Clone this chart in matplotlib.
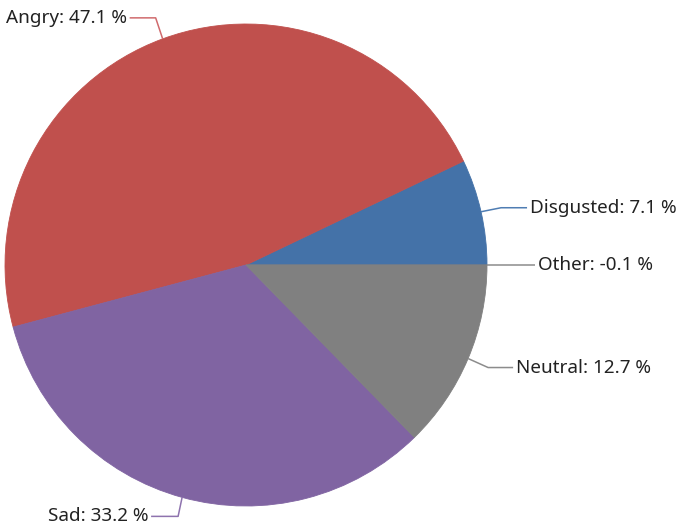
import numpy as np
import matplotlib
matplotlib.use('Agg')
import matplotlib.pyplot as plt

# chart data
labels = ['Disgusted', 'Angry', 'Sad', 'Neutral', 'Other']
values = [7.1, 47.1, 33.2, 12.7, -0.1]
colors = ['#4472A8', '#C0504D', '#8064A2', '#808080', '#808080']
line_colors = ['#4F7DB3', '#D06A6D', '#8E73AE', '#8C8C8C', '#8C8C8C']

W, H = 678, 529
fig = plt.figure(figsize=(W / 100, H / 100), dpi=100)
ax = fig.add_axes([0, 0, 1, 1])

cx, cy, r = 246, H - 265, 241

# negative share can't be a wedge, draw it as zero width
sizes = [max(v, 0) for v in values]
wedges, _ = ax.pie(sizes, colors=colors, startangle=0, counterclock=True,
                   center=(cx, cy), radius=r, normalize=True,
                   wedgeprops=dict(linewidth=0.6), frame=True)
for w, c in zip(wedges, colors):
    w.set_edgecolor(c)
ax.set_xlim(0, W)
ax.set_ylim(0, H)
ax.set_aspect('equal')
ax.axis('off')

# leader line: elbow offset and horizontal run
elbow = {'Disgusted': (20, 4, 26), 'Angry': (-7, 21, -26), 'Sad': (-4, -19, -27),
         'Neutral': (20, -9, 25), 'Other': (0, 0, 48)}

for w, lab, v, lc in zip(wedges, labels, values, line_colors):
    mid = np.deg2rad((w.theta1 + w.theta2) / 2)
    x0, y0 = cx + r * np.cos(mid), cy + r * np.sin(mid)
    ex, ey, run = elbow[lab]
    x1, y1 = x0 + ex, y0 + ey
    x2 = x1 + run
    ax.plot([x0, x1, x2], [y0, y1, y1], color=lc, lw=1.1, solid_capstyle='butt')
    ha = 'left' if run > 0 else 'right'
    xt = x2 + (3 if run > 0 else -3)
    ax.text(xt, y1, f'{lab}: {v} %', ha=ha, va='center', fontsize=13.6,
            family='Noto Sans', color='#222222')

fig.savefig('out.png', dpi=100)
